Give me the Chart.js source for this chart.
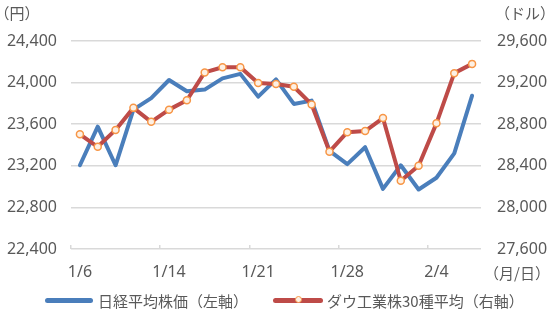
<!DOCTYPE html>
<html><head><meta charset="utf-8">
<script src="https://cdn.jsdelivr.net/npm/chart.js@4"></script>
<style>
html,body{margin:0;padding:0;background:#fff;}
#wrap{position:relative;width:550px;height:313px;overflow:hidden;font-family:"Noto Sans CJK JP","Noto Sans",sans-serif;color:#595959;}
#c{position:absolute;left:0;top:0;}
.u{position:absolute;font-size:15px;line-height:20px;height:20px;white-space:nowrap;text-align:center;width:100px;}
.lg{position:absolute;font-size:15px;line-height:20px;height:20px;white-space:nowrap;}
.ln{position:absolute;height:5px;border-radius:3px;}
.mk{position:absolute;width:5px;height:5px;border-radius:50%;border:1.5px solid #f79646;background:#fdf0e4;}
</style></head>
<body><div id="wrap">
<canvas id="c" width="550" height="313"></canvas>
<div class="u" style="left:-33px;top:3px">（円）</div>
<div class="u" style="left:475px;top:3px">（ドル）</div>
<div class="u" style="left:467px;top:263px">（月/日）</div>
<div class="ln" style="left:45px;top:298px;width:48px;background:#4a7ebb"></div>
<div class="lg" style="left:98px;top:291px">日経平均株価（左軸）</div>
<div class="ln" style="left:273px;top:298px;width:50px;background:#be4b48"></div>
<div class="mk" style="left:295px;top:296px"></div>
<div class="lg" style="left:327px;top:291px">ダウ工業株30種平均（右軸）</div>
</div>
<script>
const dates = ['1/6','1/7','1/8','1/9','1/10','1/14','1/15','1/16','1/17','1/20','1/21','1/22','1/23','1/24','1/27','1/28','1/29','1/30','1/31','2/3','2/4','2/5','2/6'];
const nikkei = [23205,23576,23205,23740,23851,24025,23917,23933,24041,24084,23865,24031,23795,23827,23344,23216,23379,22978,23205,22972,23085,23320,23874];
const dow = [28703,28583,28745,28957,28823,28940,29030,29298,29348,29348,29196,29186,29160,28990,28536,28723,28734,28859,28256,28400,28808,29291,29380];
const xTickLabels = ['1/6','1/14','1/21','1/28','2/4'];
const leftRange = [22400, 24400];
const rightRange = [27600, 29600];
const yStep = 400;
const seriesNames = ['日経平均株価（左軸）','ダウ工業株30種平均（右軸）'];

const txt = '#595959';
const gridC = '#d9d9d9';
const tickFont = {family:'"Noto Sans", sans-serif', size:16};
const fmt = v => Number(v).toLocaleString('en-US');

new Chart(document.getElementById('c'), {
  type:'line',
  data:{
    labels:dates,
    datasets:[
      {label:seriesNames[1], data:dow, yAxisID:'y2', order:0,
       borderColor:'#be4b48', borderWidth:4, tension:0, borderJoinStyle:'round', borderCapStyle:'round',
       pointRadius:3.5, pointBorderWidth:1.5, pointBorderColor:'#f79646', pointBackgroundColor:'#fdf0e4', fill:false},
      {label:seriesNames[0], data:nikkei, yAxisID:'y', order:1,
       borderColor:'#4a7ebb', borderWidth:4, tension:0, borderJoinStyle:'round', borderCapStyle:'round',
       pointRadius:0, fill:false}
    ]
  },
  options:{
    responsive:false, animation:false, devicePixelRatio:1,
    layout:{padding:{top:41,bottom:24,left:0,right:0}},
    plugins:{legend:{display:false}, tooltip:{enabled:false}},
    scales:{
      x:{type:'category', offset:true,
        grid:{offset:true, drawOnChartArea:false, drawTicks:true, tickLength:-4, lineWidth:1.5,
          color:c => (c.index % 5 === 0 && c.index < dates.length) ? gridC : 'rgba(0,0,0,0)'},
        border:{display:false},
        ticks:{autoSkip:false, maxRotation:0, minRotation:0, padding:18, color:txt, font:tickFont,
          callback:(v,i) => xTickLabels.includes(dates[i]) ? dates[i] : ''},
        afterFit:s => { s.height = 40; }
      },
      y:{position:'left', min:leftRange[0], max:leftRange[1],
        ticks:{stepSize:yStep, padding:14, color:txt, font:tickFont, callback:fmt},
        grid:{color:gridC, lineWidth:1.5, drawTicks:false},
        border:{display:false},
        afterFit:s => { s.width = 71; }
      },
      y2:{position:'right', min:rightRange[0], max:rightRange[1],
        ticks:{stepSize:yStep, padding:16, color:txt, font:tickFont, callback:fmt},
        grid:{drawOnChartArea:false, drawTicks:false},
        border:{display:false},
        afterFit:s => { s.width = 69; }
      }
    }
  }
});
</script>
</body></html>
